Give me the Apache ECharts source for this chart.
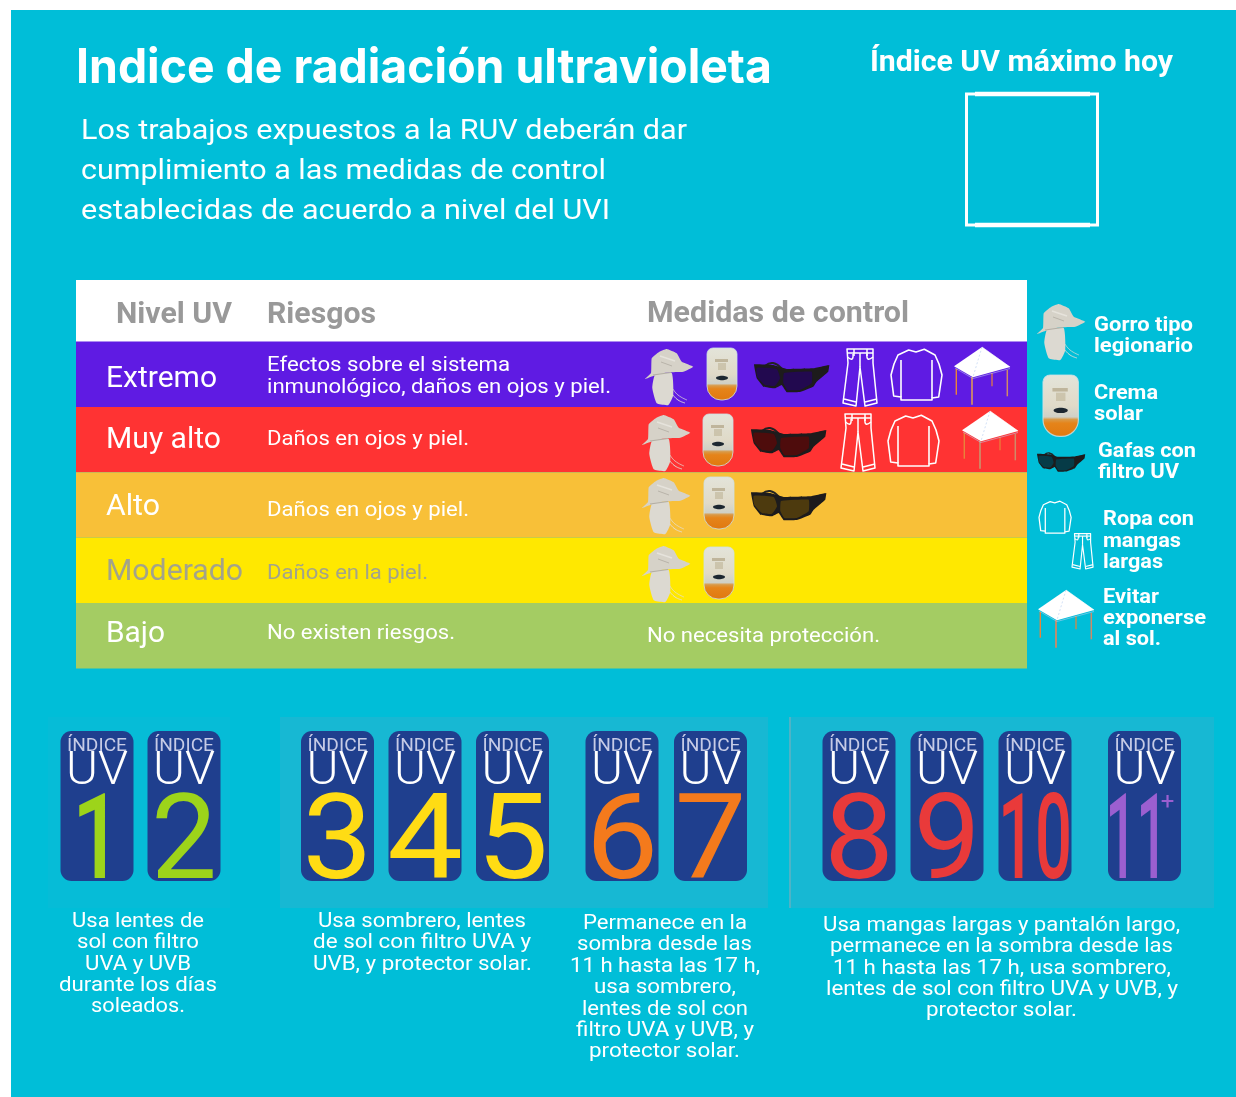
<!DOCTYPE html>
<html lang="es">
<head>
<meta charset="utf-8">
<title>Indice de radiación ultravioleta</title>
<style>html,body{margin:0;background:#fff}#chart{width:1236px;height:1097px}</style>
</head>
<body>
<div id="chart"></div>
<script src="https://cdn.jsdelivr.net/npm/echarts@6/dist/echarts.min.js"></script>
<script>
var levels = ['Extremo', 'Muy alto', 'Alto', 'Moderado', 'Bajo'];
var levelPresence = [1, 1, 1, 1, 1];
var levelColors = ['#5f1be3', '#ff3333', '#f8c038', '#ffe800', '#a4cc63'];
var uvGreen = ['1', '2'];
var uvYellow = ['3', '4', '5'];
var uvOrange = ['6', '7'];
var uvRed = ['8', '9', '10'];
var uvPurple = ['11'];

// [text, left, centre y, width]
var titleTexts = [['Indice de radiación ultravioleta', 76, 67, 696]];
var subTexts = [
  ['Los trabajos expuestos a la RUV deberán dar', 81, 130, 606],
  ['cumplimiento a las medidas de control', 81, 170, 525],
  ['establecidas de acuerdo a nivel del UVI', 81, 210, 529]
];
var headTexts = [
  ['Nivel UV', 116, 313, 116],
  ['Riesgos', 267, 313, 109],
  ['Medidas de control', 647, 312, 262]
];
var levelTexts = [
  ['Extremo', 106, 377, 111, '#fff'],
  ['Muy alto', 106, 438, 115, '#fff'],
  ['Alto', 106, 505, 54, '#fff'],
  ['Moderado', 106, 570, 137, '#a3a38a'],
  ['Bajo', 106, 632, 59, '#fff']
];
var riskTexts = [
  ['Efectos sobre el sistema', 267, 364, 243, '#fff'],
  ['inmunológico, daños en ojos y piel.', 267, 386, 344, '#fff'],
  ['Daños en ojos y piel.', 267, 438, 202, '#fff'],
  ['Daños en ojos y piel.', 267, 509, 202, '#fff'],
  ['Daños en la piel.', 267, 572, 161, '#a3a38a'],
  ['No existen riesgos.', 267, 632, 188, '#fff'],
  ['No necesita protección.', 647, 635, 233, '#fff']
];
var legendTexts = [
  ['Gorro tipo', 1094, 324, 99], ['legionario', 1094, 345, 99],
  ['Crema', 1094, 392, 64], ['solar', 1094, 413, 49],
  ['Gafas con', 1098, 450, 98], ['filtro UV', 1098, 471, 81],
  ['Ropa con', 1103, 518, 91], ['mangas', 1103, 540, 78], ['largas', 1103, 561, 60],
  ['Evitar', 1103, 596, 56], ['exponerse', 1103, 617, 103], ['al sol.', 1103, 638, 58]
];
var adviceTexts = [
  ['Usa lentes de', 72, 920, 132], ['sol con filtro', 77, 941, 122], ['UVA y UVB', 85, 963, 106],
  ['durante los días', 59, 984, 158], ['soleados.', 91, 1005, 94],
  ['Usa sombrero, lentes', 318, 920, 208], ['de sol con filtro UVA y', 313, 941, 218],
  ['UVB, y protector solar.', 313, 963, 219],
  ['Permanece en la', 583, 922, 164], ['sombra desde las', 577, 943, 175],
  ['11 h hasta las 17 h,', 570, 965, 190], ['usa sombrero,', 594, 986, 142],
  ['lentes de sol con', 582, 1008, 166], ['filtro UVA y UVB, y', 576, 1029, 178],
  ['protector solar.', 589, 1050, 151],
  ['Usa mangas largas y pantalón largo,', 823, 924, 357],
  ['permanece en la sombra desde las', 830, 945, 343],
  ['11 h hasta las 17 h, usa sombrero,', 833, 967, 338],
  ['lentes de sol con filtro UVA y UVB, y', 826, 988, 352],
  ['protector solar.', 926, 1009, 151]
];
var digitWidths = {1: 50, 2: 66, 3: 70, 4: 76, 5: 72, 6: 73, 7: 72, 8: 70, 9: 67, 10: 74, 11: 62};

var measure = document.createElement('canvas').getContext('2d');
function widthOf(str, size, weight, family) {
  measure.font = weight + ' ' + size + 'px ' + family;
  return measure.measureText(str).width;
}
function fit(row, size, weight, color, family) {
  family = family || 'Roboto';
  return {
    type: 'text', x: row[1], y: row[2] + 2, z: 10,
    scaleX: row[3] / widthOf(row[0], size, weight, family),
    style: {text: row[0], fontSize: size, fontWeight: weight, fontFamily: family, fill: row[4] || color, textAlign: 'left', textVerticalAlign: 'middle'}
  };
}
function poly(points, fill, smooth) {
  return {type: 'polygon', z: 10, shape: {points: points, smooth: smooth || 0}, style: {fill: fill}};
}
function outline(points, color, width) {
  return {type: 'polygon', z: 10, shape: {points: points}, style: {fill: 'none', stroke: color, lineWidth: width, lineJoin: 'round'}};
}
function curve(points, color, width) {
  return {type: 'polyline', z: 10, shape: {points: points, smooth: 0.5}, style: {fill: 'none', stroke: color, lineWidth: width}};
}
function seg(x1, y1, x2, y2, color, width, dash) {
  return {type: 'line', z: 10, shape: {x1: x1, y1: y1, x2: x2, y2: y2}, style: {stroke: color, lineWidth: width, lineDash: dash || null}};
}
function icon(x, y, scale, children) {
  return {type: 'group', x: x, y: y, scaleX: scale, scaleY: scale, children: children};
}
function hat(x, y) {
  return icon(x, y, 1, [
    curve([[28, 47], [33, 52], [40, 55]], '#e2ded6', 0.9), curve([[28, 41], [33, 47], [42, 52]], '#e2ded6', 0.7),
    poly([[10, 27], [26.7, 25], [28.3, 47], [23.3, 57], [11.7, 55.3], [7.3, 40]], '#dcd9d1', 0.15),
    poly([[0, 31], [6, 25], [6.7, 10.3], [14, 4], [21.7, 1], [31.7, 5.3], [36.7, 13.7], [48.3, 18.7], [38.3, 23.7], [23, 24.3], [8.3, 28]], '#d6d2c8', 0.12),
    seg(8, 27, 26, 24.5, '#b3aea4', 1.2), seg(15, 8, 30, 13, '#e6e3dc', 1.4), seg(16, 14, 27, 18, '#b9b4aa', 1)
  ]);
}
function bottle(x, y, scale) {
  return icon(x, y, scale, [
    {type: 'rect', z: 10, shape: {x: 0, y: 0, width: 30, height: 52, r: [6, 6, 14, 14]}, style: {
      stroke: 'rgba(205,225,230,0.8)', lineWidth: 1,
      fill: {type: 'linear', x: 0, y: 0, x2: 0, y2: 1, colorStops: [
        {offset: 0, color: '#e3e4da'}, {offset: 0.5, color: '#e0dac8'}, {offset: 0.68, color: '#cfd0c6'},
        {offset: 0.72, color: '#d99a48'}, {offset: 0.78, color: '#e5841a'}, {offset: 1, color: '#e0780f'}]}
    }},
    {type: 'rect', z: 10, shape: {x: 8, y: 11, width: 13, height: 3}, style: {fill: '#a89a78', opacity: 0.6}},
    {type: 'rect', z: 10, shape: {x: 11, y: 15, width: 8, height: 7}, style: {fill: '#b7ab8c', opacity: 0.5}},
    {type: 'ellipse', z: 10, shape: {cx: 15, cy: 30, rx: 6, ry: 2.2}, style: {fill: '#1c2730'}}
  ]);
}
function glasses(x, y, scale, lens) {
  return icon(x, y, scale, [
    curve([[11, 3], [19, 0], [28, 6]], '#222', 2),
    poly([[0, 1.3], [19.3, 2], [32.7, 6], [59.3, 5.3], [75.3, 2], [74.3, 8.7], [62.7, 18.7], [59.3, 23.7], [46, 29], [32.7, 29.3], [27.7, 22], [21, 25.3], [9.3, 23.7], [2.7, 15.3]], '#1d1b1c', 0.04),
    poly([[2.7, 4.7], [22.7, 6], [26, 15.3], [21, 22.7], [11, 22], [3.3, 13.7]], lens, 0.15),
    poly([[30, 10], [57.7, 8.7], [57.7, 20.3], [46, 27], [33.3, 27], [29.3, 20]], lens, 0.1)
  ]);
}
function pants(x, y, scale) {
  var w = 1.5 / Math.max(scale, 0.8), c = '#fff';
  return icon(x, y, scale, [
    outline([[4, 1], [30, 1], [30, 15], [34, 55], [22, 58], [17, 19], [13, 58], [0, 55], [5, 15]], c, w),
    seg(4, 5, 30, 5, c, w), seg(11, 1, 11, 8, c, w), seg(24, 1, 24, 8, c, w), seg(17, 5, 17, 19, c, w),
    curve([[4.5, 9], [9, 11], [10, 6]], c, w), curve([[30, 9], [25, 11], [24, 6]], c, w),
    seg(1, 51, 13, 54, c, w), seg(22, 54, 34, 51, c, w)
  ]);
}
function shirt(x, y, scale) {
  var w = 1.6 / Math.max(scale, 0.8), c = '#fff';
  return icon(x, y, scale, [
    outline([[17.7, 1], [25, 3], [33.3, 0.3], [44, 6], [48, 15], [51, 26], [47.7, 48], [41, 49], [41, 51], [10, 51], [10, 48], [2.7, 47], [0, 26], [3, 15], [7, 6]], c, w),
    seg(10, 11, 10, 48, c, w), seg(41, 11, 41, 49, c, w)
  ]);
}
function canopy(x, y, scale) {
  var leg = '#e8833a';
  return icon(x, y, scale, [
    seg(2.3, 22, 2.3, 47.7, leg, 1.4), seg(18, 30, 18, 57.7, '#cf8a68', 1.8),
    seg(53.3, 23, 53.3, 49.3, '#cf8a68', 1.5), seg(38, 26, 38, 39.3, leg, 1.2),
    poly([[28, 0], [56.3, 20], [19, 30.3], [0, 19.3]], '#fff'),
    seg(28, 0, 19, 30, 'rgba(160,190,235,0.8)', 0.6, [2, 2]), seg(28, 0, 56, 20, '#fff', 0.6),
    seg(1, 21, 19, 31.5, 'rgba(190,205,240,0.9)', 0.6), seg(19, 31.5, 56, 21.5, 'rgba(190,205,240,0.9)', 0.6)
  ]);
}

var uvGroups = [
  {data: uvGreen, color: '#9dd41a', left: 53.5, width: 174},
  {data: uvYellow, color: '#ffdc14', left: 293.75, width: 262.5},
  {data: uvOrange, color: '#f47a1c', left: 577.75, width: 177},
  {data: uvRed, color: '#e93a3a', left: 815, width: 264},
  {data: uvPurple, color: '#9b5fd0', left: 1100.5, width: 88}
];
function badgeItem(group) {
  return function (params, api) {
    var label = group.data[params.dataIndex];
    var pos = api.coord([params.dataIndex, 1]);
    var cx = pos[0], top = pos[1], h = api.size([0, 1])[1];
    var bw = 73;
    var numWeight = (label === '1' || label === '10' || label === '11') ? 500 : 400;
    function fitted(str, w, cy, size, weight, fill) {
      return {type: 'text', x: cx, y: cy, scaleX: w / widthOf(str, size, weight, 'Roboto'),
        style: {text: str, fontSize: size, fontWeight: weight, fontFamily: 'Roboto', fill: fill, textAlign: 'center', textVerticalAlign: 'middle'}};
    }
    var kids = [
      {type: 'rect', shape: {x: cx - bw / 2, y: top, width: bw, height: h, r: 11}, style: {fill: '#1f3f8e'}},
      fitted('ÍNDICE', 60, top + 15, 19, 400, '#c6cbe6'),
      fitted('UV', 62, top + 41, 46, 300, '#fff'),
      fitted(label, digitWidths[label], top + 117, 118, numWeight, group.color)
    ];
    if (label === '11') {
      kids[3].x = cx - 8;
      kids.push({type: 'text', x: cx + 23, y: top + 72, style: {text: '+', fontSize: 24, fontFamily: 'Roboto', fill: group.color, textAlign: 'center', textVerticalAlign: 'middle'}});
    }
    return {type: 'group', children: kids};
  };
}

var grids = [{left: 76, width: 951, top: 341.5, height: 327}];
var xAxes = [{type: 'value', min: 0, max: 1, show: false, gridIndex: 0}];
var yAxes = [{type: 'category', data: levels, inverse: true, show: false, gridIndex: 0}];
var series = [{
  type: 'bar', name: 'Nivel UV', xAxisIndex: 0, yAxisIndex: 0, barWidth: '100%', silent: true,
  data: levelPresence.map(function (v, i) { return {value: v, itemStyle: {color: levelColors[i]}}; })
}];
uvGroups.forEach(function (g, i) {
  grids.push({left: g.left, width: g.width, top: 731, height: 150});
  xAxes.push({type: 'category', data: g.data, show: false, gridIndex: i + 1});
  yAxes.push({type: 'value', min: 0, max: 1, show: false, gridIndex: i + 1});
  series.push({
    type: 'custom', name: 'Índice UV', xAxisIndex: i + 1, yAxisIndex: i + 1, silent: true,
    data: g.data.map(function (v, k) { return [k, 1]; }),
    encode: {x: 0, y: 1},
    renderItem: badgeItem(g)
  });
});

var elements = [
  {type: 'rect', z: 0, shape: {x: 11, y: 10, width: 1225, height: 1087}, style: {fill: '#00bed8'}},
  {type: 'rect', z: 0, shape: {x: 48, y: 717, width: 182, height: 191}, style: {fill: '#06bcd7'}},
  {type: 'rect', z: 0, shape: {x: 280, y: 717, width: 488, height: 191}, style: {fill: '#17b8d3'}},
  {type: 'rect', z: 0, shape: {x: 790, y: 717, width: 424, height: 191}, style: {fill: '#17b8d3'}},
  {type: 'rect', z: 0, shape: {x: 789, y: 717, width: 2, height: 191}, style: {fill: '#4fb3c6'}},
  {type: 'rect', z: 0, shape: {x: 76, y: 280, width: 951, height: 62}, style: {fill: '#fff'}},
  {type: 'rect', z: 10, shape: {x: 966.5, y: 94, width: 131, height: 131}, style: {fill: 'none', stroke: '#fff', lineWidth: 3}},
  seg(975, 94, 1090, 94, '#fff', 4.5), seg(975, 225, 1090, 225, '#fff', 4.5),
  fit(['Índice UV máximo hoy', 870, 61, 303], 30, 700, '#fff')
];
titleTexts.forEach(function (r) { elements.push(fit(r, 48, 700, '#fff', 'Inter')); });
subTexts.forEach(function (r) { elements.push(fit(r, 28, 400, '#fff')); });
headTexts.forEach(function (r) { elements.push(fit(r, 30, 700, '#999')); });
levelTexts.forEach(function (r) { elements.push(fit(r, 30, 400, '#fff')); });
riskTexts.forEach(function (r) { elements.push(fit(r, 21, 400, '#fff')); });
legendTexts.forEach(function (r) { elements.push(fit(r, 21, 700, '#fff')); });
adviceTexts.forEach(function (r) { elements.push(fit(r, 21, 400, '#fff')); });
elements.push(
  hat(645, 348), bottle(707, 348, 1), glasses(754, 363, 1, '#22094f'), pants(843, 348, 1), shirt(891, 349, 1), canopy(954, 347, 1),
  hat(642, 414), bottle(703, 414, 1), glasses(751, 428, 1, '#4e0c0c'), pants(841, 413, 1), shirt(888, 415, 1), canopy(962, 411, 1),
  hat(642, 477), bottle(704, 477, 1), glasses(751, 491, 1, '#4d3a0e'),
  hat(642, 545), bottle(704, 547, 1),
  hat(1037, 303), bottle(1043, 375, 1.18), glasses(1037, 453, 0.64, '#063b47'),
  shirt(1039, 501, 0.63), pants(1072, 533, 0.62), canopy(1038, 590, 1)
);

var myChart = echarts.init(document.getElementById('chart'));
myChart.setOption({
  backgroundColor: '#fff',
  animation: false,
  grid: grids,
  xAxis: xAxes,
  yAxis: yAxes,
  series: series,
  graphic: {elements: elements}
});
</script>
</body>
</html>
